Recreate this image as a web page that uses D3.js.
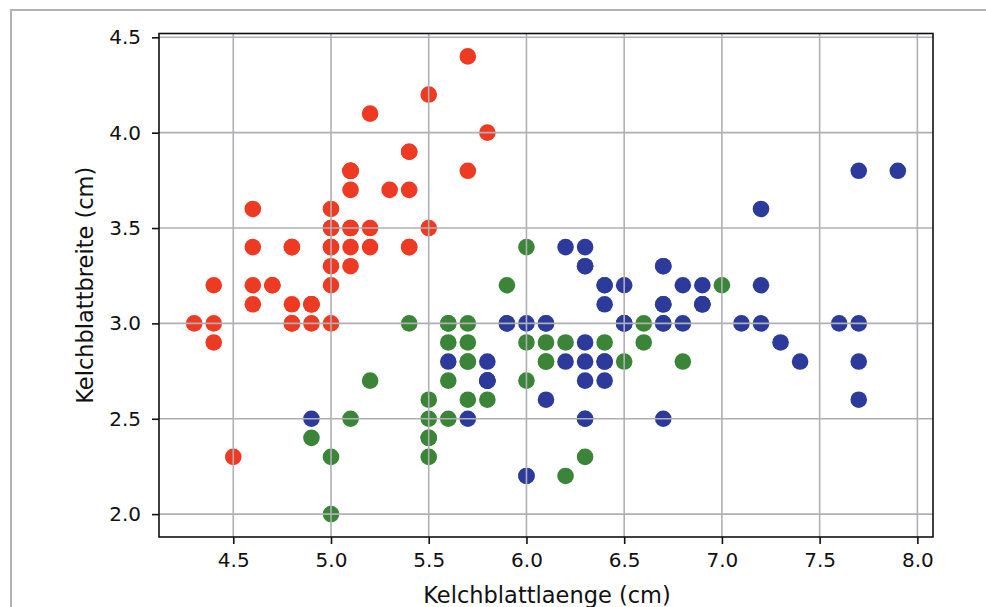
<html>
  <meta charset="utf-8">
  <head>
  <style>
    body { margin: 0; background: #fff; }
    svg text { font-family: 'DejaVu Sans', sans-serif; fill: #111; }
  </style>
  </head>
  <body>
    <div id="chart"></div>
    <script src="https://d3js.org/d3.v7.min.js"></script>
    <script>
    'use strict';

    // sepal length / width (cm) per species
    var setosa = [
      [5.1,3.5],[4.9,3.0],[4.7,3.2],[4.6,3.1],[5.0,3.6],[5.4,3.9],[4.6,3.4],[5.0,3.4],[4.4,2.9],[4.9,3.1],
      [5.4,3.7],[4.8,3.4],[4.8,3.0],[4.3,3.0],[5.8,4.0],[5.7,4.4],[5.4,3.9],[5.1,3.5],[5.7,3.8],[5.1,3.8],
      [5.4,3.4],[5.1,3.7],[4.6,3.6],[5.1,3.3],[4.8,3.4],[5.0,3.0],[5.0,3.4],[5.2,3.5],[5.2,3.4],[4.7,3.2],
      [4.8,3.1],[5.4,3.4],[5.2,4.1],[5.5,4.2],[4.9,3.1],[5.0,3.2],[5.5,3.5],[4.9,3.1],[4.4,3.0],[5.1,3.4],
      [5.0,3.5],[4.5,2.3],[4.4,3.2],[5.0,3.5],[5.1,3.8],[4.8,3.0],[5.1,3.8],[4.6,3.2],[5.3,3.7],[5.0,3.3]
    ];
    var versicolor = [
      [7.0,3.2],[6.4,3.2],[6.9,3.1],[5.5,2.3],[6.5,2.8],[5.7,2.8],[6.3,3.3],[4.9,2.4],[6.6,2.9],[5.2,2.7],
      [5.0,2.0],[5.9,3.0],[6.0,2.2],[6.1,2.9],[5.6,2.9],[6.7,3.1],[5.6,3.0],[5.8,2.7],[6.2,2.2],[5.6,2.5],
      [5.9,3.2],[6.1,2.8],[6.3,2.5],[6.1,2.8],[6.4,2.9],[6.6,3.0],[6.8,2.8],[6.7,3.0],[6.0,2.9],[5.7,2.6],
      [5.5,2.4],[5.5,2.4],[5.8,2.7],[6.0,2.7],[5.4,3.0],[6.0,3.4],[6.7,3.1],[6.3,2.3],[5.6,3.0],[5.5,2.5],
      [5.5,2.6],[6.1,3.0],[5.8,2.6],[5.0,2.3],[5.6,2.7],[5.7,3.0],[5.7,2.9],[6.2,2.9],[5.1,2.5],[5.7,2.8]
    ];
    var virginica = [
      [6.3,3.3],[5.8,2.7],[7.1,3.0],[6.3,2.9],[6.5,3.0],[7.6,3.0],[4.9,2.5],[7.3,2.9],[6.7,2.5],[7.2,3.6],
      [6.5,3.2],[6.4,2.7],[6.8,3.0],[5.7,2.5],[5.8,2.8],[6.4,3.2],[6.5,3.0],[7.7,3.8],[7.7,2.6],[6.0,2.2],
      [6.9,3.2],[5.6,2.8],[7.7,2.8],[6.3,2.7],[6.7,3.3],[7.2,3.2],[6.2,2.8],[6.1,3.0],[6.4,2.8],[7.2,3.0],
      [7.4,2.8],[7.9,3.8],[6.4,2.8],[6.3,2.8],[6.1,2.6],[7.7,3.0],[6.3,3.4],[6.4,3.1],[6.0,3.0],[6.9,3.1],
      [6.7,3.1],[6.9,3.1],[5.8,2.7],[6.8,3.2],[6.7,3.3],[6.7,3.0],[6.3,2.5],[6.5,3.0],[6.2,3.4],[5.9,3.0]
    ];
    var xTicks = [4.5, 5.0, 5.5, 6.0, 6.5, 7.0, 7.5, 8.0];
    var yTicks = [2.0, 2.5, 3.0, 3.5, 4.0, 4.5];
    var xLabel = 'Kelchblattlaenge (cm)';
    var yLabel = 'Kelchblattbreite (cm)';

    var W = 986, H = 607;
    var margin = {top: 33.5, right: 53, bottom: 70, left: 159};
    var iw = W - margin.left - margin.right, ih = H - margin.top - margin.bottom;

    var svg = d3.select('#chart').append('svg')
      .attr('width', W).attr('height', H);

    // outer frame of the screenshot
    svg.append('path')
      .attr('d', 'M11,607 V10 H986')
      .attr('fill', 'none').attr('stroke', '#b4b4b8').attr('stroke-width', 2);

    var g = svg.append('g').attr('transform', 'translate(' + margin.left + ',' + margin.top + ')');

    var x = d3.scaleLinear().domain([4.12, 8.08]).range([0, iw]);
    var y = d3.scaleLinear().domain([1.88, 4.52]).range([ih, 0]);

    var series = [
      {data: setosa, color: '#ee3a22'},
      {data: versicolor, color: '#3a8537'},
      {data: virginica, color: '#2c3b9b'}
    ];

    series.forEach(function(s) {
      g.append('g').selectAll('circle').data(s.data).enter().append('circle')
        .attr('cx', function(d) { return x(d[0]); })
        .attr('cy', function(d) { return y(d[1]); })
        .attr('r', 8.3)
        .attr('fill', s.color);
    });

    // grid on top of the markers, as matplotlib does
    var grid = g.append('g').attr('stroke', '#b0b0b4').attr('stroke-width', 1.6);
    grid.selectAll('.gx').data(xTicks).enter().append('line')
      .attr('x1', x).attr('x2', x).attr('y1', 0).attr('y2', ih);
    grid.selectAll('.gy').data(yTicks).enter().append('line')
      .attr('y1', y).attr('y2', y).attr('x1', 0).attr('x2', iw);

    var xAxis = g.append('g').attr('transform', 'translate(0,' + ih + ')')
      .call(d3.axisBottom(x).tickValues(xTicks).tickFormat(d3.format('.1f')).tickSize(7).tickPadding(9));
    var yAxis = g.append('g')
      .call(d3.axisLeft(y).tickValues(yTicks).tickFormat(d3.format('.1f')).tickSize(7).tickPadding(11));
    [xAxis, yAxis].forEach(function(a) {
      a.select('.domain').remove();
      a.selectAll('.tick line').attr('stroke', '#111').attr('stroke-width', 1.6);
      a.selectAll('.tick text').attr('font-size', 20).attr('fill', '#111')
        .attr('font-family', "'DejaVu Sans', sans-serif");
    });

    g.append('rect').attr('width', iw).attr('height', ih)
      .attr('fill', 'none').attr('stroke', '#111').attr('stroke-width', 1.6);

    svg.append('text')
      .attr('x', margin.left + iw / 2 + 1).attr('y', 603)
      .attr('text-anchor', 'middle').attr('font-size', 22.5)
      .text(xLabel);
    svg.append('text')
      .attr('transform', 'translate(93,' + (margin.top + ih / 2) + ') rotate(-90)')
      .attr('text-anchor', 'middle').attr('font-size', 22.5)
      .text(yLabel);
    </script>
  </body>
</html>
